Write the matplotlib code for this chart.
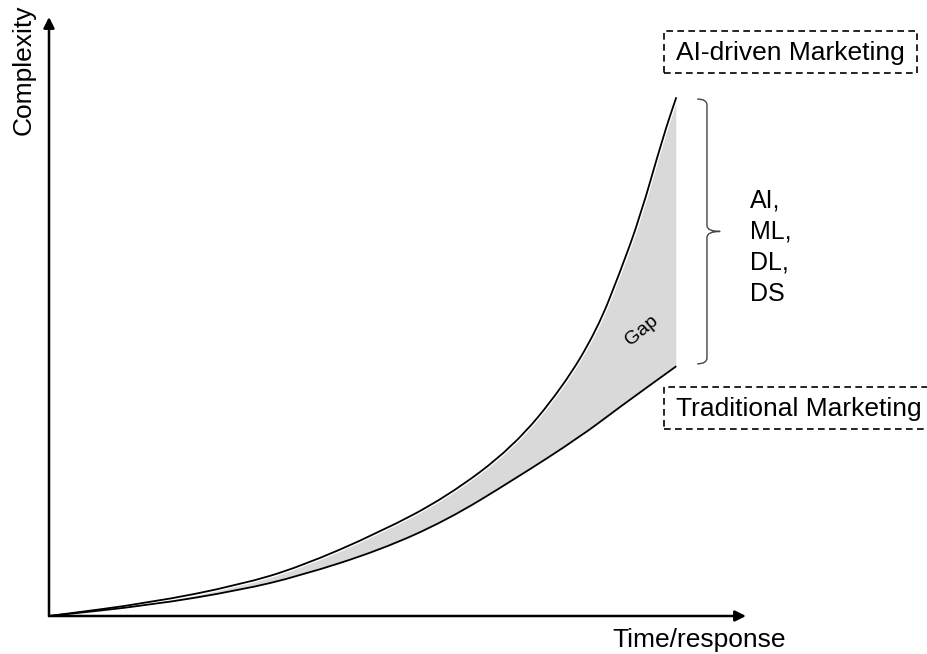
import numpy as np
import matplotlib
matplotlib.use("Agg")
import matplotlib.pyplot as plt
from matplotlib.patches import Rectangle, PathPatch
from matplotlib.path import Path

plt.rcParams['font.family'] = ['Liberation Sans', 'DejaVu Sans']

# curves (time/response vs complexity, arbitrary units)
t_ai = [0, 1.45, 2.74, 3.60, 4.75, 5.71, 6.66, 7.37, 7.86, 8.19, 8.48, 8.81, 9.0]
c_ai = [0, 0.22, 0.52, 0.82, 1.40, 1.99, 2.82, 3.82, 4.77, 5.73, 6.66, 8.00, 8.66]
t_trad = [0, 1.45, 2.74, 3.60, 4.75, 5.71, 6.66, 7.62, 8.19, 9.0]
c_trad = [0, 0.18, 0.43, 0.67, 1.10, 1.60, 2.27, 2.99, 3.49, 4.17]

labels_top = "AI-driven Marketing"
labels_bottom = "Traditional Marketing"
brace_text = ["AI,", "ML,", "DL,", "DS"]


def smooth_path(xs, ys):
    # quadratic curve through the read points, used as control points
    pts = list(zip(xs, ys))
    verts = [pts[0]]
    codes = [Path.MOVETO]
    mid = lambda a, b: ((a[0] + b[0]) / 2, (a[1] + b[1]) / 2)
    verts.append(mid(pts[0], pts[1]))
    codes.append(Path.LINETO)
    for i in range(1, len(pts) - 1):
        verts += [pts[i], mid(pts[i], pts[i + 1])]
        codes += [Path.CURVE3, Path.CURVE3]
    verts.append(pts[-1])
    codes.append(Path.LINETO)
    return verts, codes


fig = plt.figure(figsize=(9.28, 6.54), dpi=100)
ax = fig.add_axes([49 / 928, 38 / 654, 697 / 928, 599 / 654])
ax.set_xlim(0, 10)
ax.set_ylim(0, 10)
ax.axis('off')

# axes with arrow heads
arrow = dict(arrowstyle='-|>', lw=1.8, color='black', mutation_scale=16,
             shrinkA=0, shrinkB=0)
ax.annotate('', xy=(10, 0), xytext=(0, 0), arrowprops=arrow, annotation_clip=False)
ax.annotate('', xy=(0, 10), xytext=(0, 0), arrowprops=arrow, annotation_clip=False)

v_ai, k_ai = smooth_path(t_ai, c_ai)
v_tr, k_tr = smooth_path(t_trad, c_trad)
v_tr_rev, k_tr_rev = smooth_path(t_trad[::-1], c_trad[::-1])

# gap between the two curves
k_fill = k_ai + [Path.LINETO] + k_tr_rev[1:] + [Path.CLOSEPOLY]
v_fill = v_ai + v_tr_rev + [v_ai[0]]
ax.add_patch(PathPatch(Path(v_fill, k_fill), facecolor='#d9d9d9', lw=0, zorder=1))

ax.add_patch(PathPatch(Path(v_ai, k_ai), fill=False, edgecolor='white', lw=3.2,
                       zorder=2))
ax.add_patch(PathPatch(Path(v_ai, k_ai), fill=False, edgecolor='black', lw=1.3,
                       zorder=3))
ax.add_patch(PathPatch(Path(v_tr, k_tr), fill=False, edgecolor='black', lw=1.3,
                       zorder=3))

ax.text(8.51, 4.77, "Gap", rotation=40, fontsize=14, ha='center', va='center',
        zorder=4)

# curly brace on the right
x0, x1, xt = 9.30, 9.44, 9.63
yt, yb = 8.63, 4.21
ym = (yt + yb) / 2
verts = [(x0, yt), (x1, yt), (x1, yt - 0.1),
         (x1, ym + 0.1), (x1, ym), (xt, ym),
         (x1, ym), (x1, ym - 0.1),
         (x1, yb + 0.1), (x1, yb), (x0, yb)]
codes = [Path.MOVETO, Path.CURVE3, Path.CURVE3,
         Path.LINETO, Path.CURVE3, Path.CURVE3,
         Path.CURVE3, Path.CURVE3,
         Path.LINETO, Path.CURVE3, Path.CURVE3]
ax.add_patch(PathPatch(Path(verts, codes), fill=False, edgecolor='#444444',
                       lw=1.0, clip_on=False))

ax.text(10.06, 6.16, "\n".join(brace_text), fontsize=18, ha='left',
        va='center', linespacing=1.38, clip_on=False)

# dashed label boxes
dash = (0, (4, 2.6))
ax.add_patch(Rectangle((8.82, 9.07), 12.45 - 8.82, 9.77 - 9.07, fill=False,
                       lw=1.2, ls=dash, edgecolor='black', clip_on=False))
ax.text(10.63, 9.40, labels_top, fontsize=19, ha='center', va='center',
        clip_on=False)
ax.add_patch(Rectangle((8.82, 3.12), 12.9 - 8.82, 3.82 - 3.12, fill=False,
                       lw=1.2, ls=dash, edgecolor='black', clip_on=False))
ax.text(10.76, 3.45, labels_bottom, fontsize=19, ha='center', va='center',
        clip_on=False)

fig.text(24 / 928, 1 - 70 / 654, "Complexity", rotation=90, fontsize=19,
         ha='center', va='center')
fig.text(699 / 928, 1 - 640 / 654, "Time/response", fontsize=19,
         ha='center', va='center')

fig.savefig("out.png", dpi=100)
